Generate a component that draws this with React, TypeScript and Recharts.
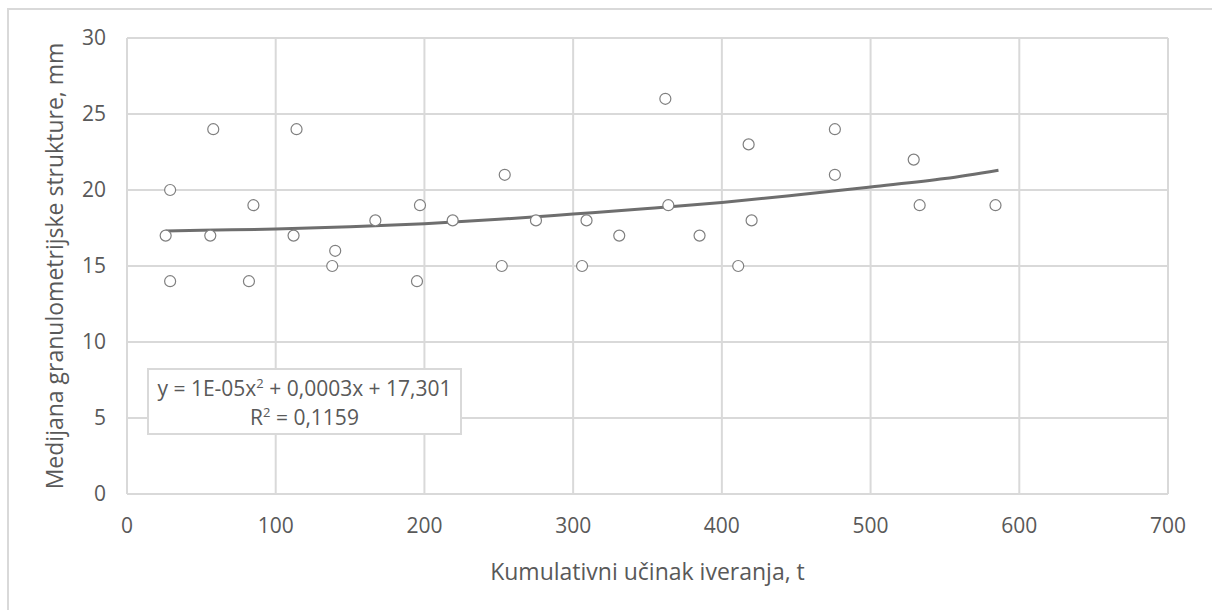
import {
  CartesianGrid,
  ComposedChart,
  Label,
  Line,
  Scatter,
  XAxis,
  YAxis,
} from "recharts";

// cumulative output (t) and median size (mm)
const xValues = [
  26, 29, 29, 56, 58, 82, 85, 112, 114, 138, 140, 167, 195, 197, 219, 252, 254,
  275, 306, 309, 331, 362, 364, 385, 411, 418, 420, 476, 476, 529, 533, 584,
];
const yValues = [
  17, 20, 14, 17, 24, 14, 19, 17, 24, 15, 16, 18, 14, 19, 18, 15, 21, 18, 15,
  18, 17, 26, 19, 17, 15, 23, 18, 24, 21, 22, 19, 19,
];

// polynomial trend line
const trendX = [26, 50, 100, 150, 200, 250, 300, 350, 400, 450, 500, 550, 586];
const trendY = [
  17.31, 17.35, 17.43, 17.58, 17.78, 18.07, 18.42, 18.78, 19.18, 19.67, 20.2,
  20.75, 21.3,
];

const xTicks = [0, 100, 200, 300, 400, 500, 600, 700];
const yTicks = [0, 5, 10, 15, 20, 25, 30];

const points = xValues.map((x, i) => ({ x, y: yValues[i] }));
const trend = trendX.map((x, i) => ({ x, trend: trendY[i] }));

const FONT = "'Open Sans', sans-serif";
const TEXT = "#595959";
const GRID = "#d9d9d9";

function Circle(props: any) {
  return (
    <circle
      cx={props.cx}
      cy={props.cy}
      r={5.5}
      fill="#ffffff"
      stroke="#7f7f7f"
      strokeWidth={1.2}
    />
  );
}

export default function App() {
  return (
    <div
      style={{
        position: "absolute",
        left: 0,
        top: 0,
        width: 1212,
        height: 610,
        background: "#fff",
        overflow: "hidden",
        fontFamily: FONT,
      }}
    >
      <div
        style={{
          position: "absolute",
          left: 7,
          top: 8,
          width: 1300,
          height: 700,
          borderLeft: `2px solid ${GRID}`,
          borderTop: `2px solid ${GRID}`,
        }}
      />
      <div style={{ position: "absolute", left: 0, top: 0 }}>
        <ComposedChart
          width={1212}
          height={610}
          margin={{ top: 38, right: 44, bottom: 0, left: 0 }}
        >
          <CartesianGrid stroke={GRID} strokeWidth={2} />
          <XAxis
            dataKey="x"
            type="number"
            domain={[0, 700]}
            ticks={xTicks}
            height={116}
            axisLine={false}
            tickLine={false}
            tickSize={0}
            tickMargin={24}
            tick={{ fill: TEXT, fontSize: 21, fontFamily: FONT }}
            allowDataOverflow
          >
            <Label
              value="Kumulativni učinak iveranja, t"
              position="insideBottom"
              offset={30}
              fill={TEXT}
              fontSize={23}
              fontFamily={FONT}
            />
          </XAxis>
          <YAxis
            type="number"
            domain={[0, 30]}
            ticks={yTicks}
            width={127}
            axisLine={false}
            tickLine={false}
            tickSize={0}
            tickMargin={21}
            tick={{ fill: TEXT, fontSize: 21, fontFamily: FONT }}
            allowDataOverflow
          >
            <Label
              value="Medijana granulometrijske strukture, mm"
              angle={-90}
              position="insideLeft"
              offset={55}
              style={{ textAnchor: "middle" }}
              fill={TEXT}
              fontSize={23}
              fontFamily={FONT}
            />
          </YAxis>
          <Scatter
            data={points}
            dataKey="y"
            shape={Circle}
            isAnimationActive={false}
          />
          <Line
            data={trend}
            dataKey="trend"
            type="monotone"
            stroke="#6e6e6e"
            strokeWidth={3}
            dot={false}
            activeDot={false}
            isAnimationActive={false}
          />
        </ComposedChart>
      </div>
      <div
        style={{
          position: "absolute",
          left: 147,
          top: 368,
          width: 315,
          height: 67,
          border: `2px solid ${GRID}`,
          background: "#fff",
          color: TEXT,
          fontSize: 21,
          lineHeight: "29px",
          textAlign: "center",
          paddingTop: 4,
          boxSizing: "border-box",
          whiteSpace: "nowrap",
        }}
      >
        <div>
          y = 1E-05x<sup style={{ fontSize: 13, lineHeight: 0 }}>2</sup> +
          0,0003x + 17,301
        </div>
        <div>
          R<sup style={{ fontSize: 13, lineHeight: 0 }}>2</sup> = 0,1159
        </div>
      </div>
    </div>
  );
}
